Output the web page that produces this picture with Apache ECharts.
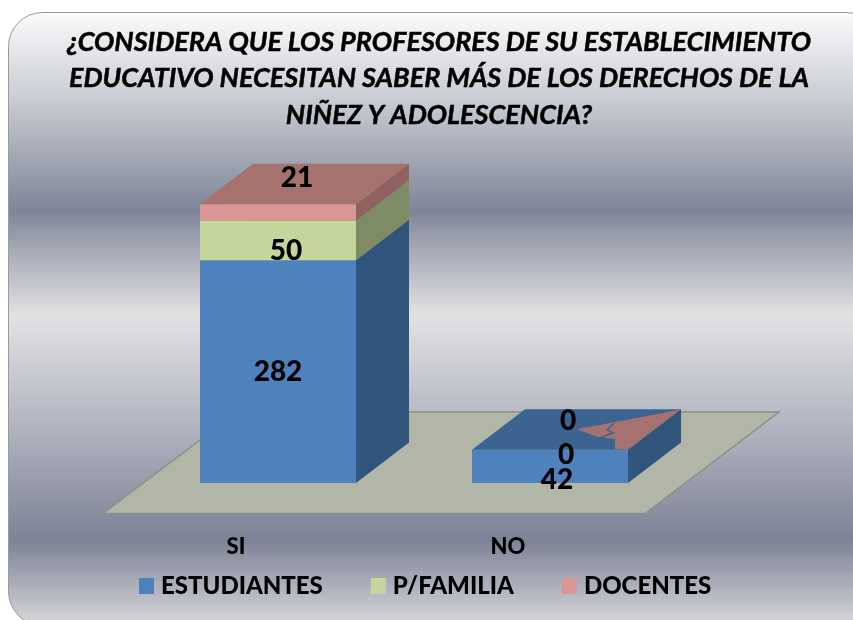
<!DOCTYPE html>
<html>
<head>
<meta charset="utf-8">
<style>html,body{margin:0;padding:0;background:#fff}#c{width:853px;height:620px}</style>
<script src="https://cdn.jsdelivr.net/npm/echarts@6/dist/echarts.min.js"></script>
</head>
<body>
<div id="c"></div>
<script>
const titleLines = [
  '¿CONSIDERA QUE LOS PROFESORES DE SU ESTABLECIMIENTO',
  'EDUCATIVO NECESITAN SABER MÁS DE LOS DERECHOS DE LA',
  'NIÑEZ Y ADOLESCENCIA?'
];
const categories = ['SI', 'NO'];
const estudiantes = [282, 42];
const familia = [50, 0];
const docentes = [21, 0];

const FONT = 'Lato, "Open Sans", sans-serif';
const DEPTH_X = 53, DEPTH_Y = -40.5, BAR_RATIO = 0.5735;
const stacks = [estudiantes, familia, docentes];
const names = ['ESTUDIANTES', 'P/FAMILIA', 'DOCENTES'];
const palette = [
  { front: '#4F81BD', side: '#31547C', top: '#3B6491' },
  { front: '#C3D69B', side: '#7D8C64', top: '#8F9E70' },
  { front: '#D99694', side: '#8F625F', top: '#A6726F' }
];
// label nudges from the middle of each segment [series][category]
const labelShift = [
  [[0, 0], [7, 14]],
  [[8, 10], [16, 5]],
  [[19, -34], [18, -29]]
];

function poly(points, fill) {
  return { type: 'polygon', shape: { points }, style: { fill, stroke: null }, silent: true };
}

function barRenderer(si) {
  return function (params, api) {
    const c = api.value(0);
    const v = api.value(1);
    let base = 0;
    for (let i = 0; i < si; i++) base += stacks[i][c];
    const p0 = api.coord([c, base]);
    const p1 = api.coord([c, base + v]);
    const w = api.size([1, 0])[0] * BAR_RATIO;
    const l = p0[0] - w / 2, r = p0[0] + w / 2;
    const yb = p0[1], yt = p1[1];
    const col = palette[si];
    const children = [];
    if (v > 0) {
      children.push(poly([[l, yb], [r, yb], [r, yt], [l, yt]], col.front));
      children.push(poly([[r, yb], [r + DEPTH_X, yb + DEPTH_Y], [r + DEPTH_X, yt + DEPTH_Y], [r, yt]], col.side));
      children.push(poly([[l, yt], [r, yt], [r + DEPTH_X, yt + DEPTH_Y], [l + DEPTH_X, yt + DEPTH_Y]], col.top));
    } else if (si === 2) {
      // zero-height slab leaves a sliver on the top face of the bar below
      const at = s => [r + s[0], yt + s[1]];
      const sliver = [[52, -40], [0, -0.5], [-13, -0.5], [-13, -9], [-28, -12], [-51, -20.5]];
      const zig = [[-14, -26.5], [-21, -20], [-15, -17], [-28, -12], [-13, -10]];
      children.push(poly(sliver.map(at), col.top));
      children.push({
        type: 'polyline', silent: true, shape: { points: zig.map(at) },
        style: { stroke: palette[0].top, lineWidth: 1.5, fill: null }
      });
    }
    const sh = labelShift[si][c];
    children.push({
      type: 'text', z2: 100, silent: true,
      style: {
        text: String(v), x: p0[0] + sh[0], y: (yb + yt) / 2 + sh[1],
        align: 'center', verticalAlign: 'middle',
        font: '900 28px ' + FONT, fill: '#000'
      }
    });
    return { type: 'group', children };
  };
}

function floorRenderer(params, api) {
  const a = api.coord([0, 0]);
  const b = api.coord([categories.length - 1, 0]);
  return {
    type: 'polygon', silent: true,
    shape: { points: [
      [a[0] - 175, a[1] + 30.5], [b[0] + 95, a[1] + 30.5],
      [b[0] + 229, a[1] - 71], [a[0] - 41, a[1] - 71]
    ] },
    style: { fill: '#B2B6A6', stroke: '#8E9088', lineWidth: 1.5 }
  };
}

const chart = echarts.init(document.getElementById('c'), null, { renderer: 'canvas' });
chart.setOption({
  animation: false,
  backgroundColor: '#fff',
  graphic: [{
    type: 'rect', z: -10, silent: true,
    shape: { x: 8.5, y: 12.5, width: 872, height: 613, r: 34 },
    style: {
      stroke: '#9A9A9A', lineWidth: 1,
      fill: new echarts.graphic.LinearGradient(0, 0, 0, 1, [
        { offset: 0, color: '#FBFBFB' },
        { offset: 0.15, color: '#C6C9D0' },
        { offset: 0.325, color: '#7F8598' },
        { offset: 0.37, color: '#9CA0AE' },
        { offset: 0.495, color: '#E2E2E3' },
        { offset: 0.68, color: '#B0B3BF' },
        { offset: 0.86, color: '#7D8296' },
        { offset: 1, color: '#D8D9DC' }
      ])
    }
  }],
  title: {
    text: titleLines.join('\n'),
    left: 434, top: 19, textAlign: 'center',
    textStyle: { fontFamily: FONT, fontSize: 27, fontWeight: 'bold', fontStyle: 'italic', color: '#000', lineHeight: 36.5, textBorderColor: '#000', textBorderWidth: 0.5 }
  },
  grid: { left: 142, width: 544, top: 167, height: 316 },
  xAxis: {
    type: 'category', data: categories,
    axisLine: { show: false }, axisTick: { show: false }, splitLine: { show: false },
    axisLabel: { margin: 53, fontFamily: FONT, fontSize: 22, fontWeight: 900, color: '#000', padding: [0, 84, 0, 0] }
  },
  yAxis: { type: 'value', min: 0, max: 400, show: false },
  legend: {
    data: names, left: 134, top: 569, itemWidth: 15, itemHeight: 16, itemGap: 48,
    icon: 'rect', selectedMode: false,
    textStyle: { fontFamily: FONT, fontSize: 24, fontWeight: 900, color: '#000', padding: [0, 0, 0, 2] }
  },
  series: [
    { type: 'custom', name: 'floor', clip: false, z: 1, renderItem: floorRenderer, encode: { x: 0, y: 1 }, data: [[0, 0]], silent: true }
  ].concat(stacks.map((vals, si) => ({
    type: 'custom', name: names[si], clip: false,
    itemStyle: { color: palette[si].front },
    renderItem: barRenderer(si),
    encode: { x: 0, y: 1 },
    data: vals.map((v, i) => [i, v])
  })))
});
</script>
</body>
</html>
